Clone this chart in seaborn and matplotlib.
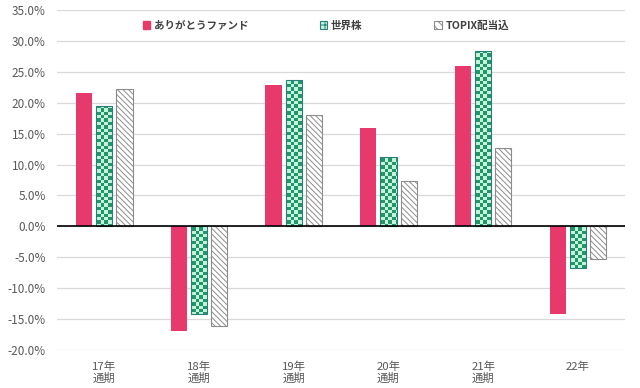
import numpy as np
import pandas as pd
import matplotlib
matplotlib.use('Agg')
import matplotlib.pyplot as plt
import seaborn as sns
from matplotlib.patches import Patch
from matplotlib.ticker import PercentFormatter

# Data (returns in %)
periods = ['17年\n通期', '18年\n通期', '19年\n通期', '20年\n通期', '21年\n通期', '22年']
series = ['ありがとうファンド', '世界株', 'TOPIX配当込']
fund = [21.6, -16.9, 22.9, 15.9, 26.0, -14.2]
world = [19.4, -14.2, 23.7, 11.2, 28.4, -6.7]
topix = [22.2, -16.1, 18.1, 7.3, 12.7, -5.3]

# Colors
pink = '#E8396C'
green_dark = '#23946B'
green_light = '#C3F5D8'
green_edge = '#2A7F7A'
gray_edge = '#8C8C8C'

sns.set_style('white')
plt.rcParams['font.family'] = ['Noto Sans CJK JP', 'DejaVu Sans']
plt.rcParams['axes.unicode_minus'] = False
plt.rcParams['hatch.linewidth'] = 0.7

df = pd.DataFrame({
    'period': periods * 3,
    'series': [series[0]] * 6 + [series[1]] * 6 + [series[2]] * 6,
    'value': fund + world + topix,
})

fig = plt.figure(figsize=(6.4, 3.88), dpi=100)
ax = fig.add_axes([0.089, 0.098, 0.888, 0.876])

sns.barplot(data=df, x='period', y='value', hue='series', hue_order=series,
            palette=[pink, green_light, 'white'], width=0.64, gap=0.2,
            legend=False, ax=ax, saturation=1)

# style each series
for bar in ax.containers[0]:
    bar.set_edgecolor(pink)
    bar.set_linewidth(0)
for bar in ax.containers[2]:
    bar.set_facecolor('white')
    bar.set_edgecolor(gray_edge)
    bar.set_hatch('\\\\\\\\\\\\')
    bar.set_linewidth(0.8)

# checkerboard fill for the green series
ny, nx = 100, 168
checker = (np.add.outer(np.arange(ny), np.arange(nx)) % 2).astype(float)
cmap = matplotlib.colors.ListedColormap([green_dark, green_light])
for bar in ax.containers[1]:
    bar.set_edgecolor(green_edge)
    bar.set_linewidth(0.8)
    im = ax.imshow(checker, cmap=cmap, extent=(-0.5, 5.5, -20, 35),
                   aspect='auto', interpolation='nearest', zorder=bar.get_zorder() + 0.1)
    im.set_clip_path(bar)
    bar.set_zorder(bar.get_zorder() + 0.2)
    bar.set_facecolor('none')

ax.set_ylim(-20, 35)
ax.set_xlim(-0.5, 5.5)

ax.set_yticks(np.arange(-20, 36, 5))
ax.yaxis.set_major_formatter(PercentFormatter(decimals=1))
ax.grid(axis='y', color='#D9D9D9', linewidth=0.9)
ax.set_axisbelow(True)
ax.axhline(0, color='black', linewidth=1.2, zorder=5)
for s in ax.spines.values():
    s.set_visible(False)
ax.tick_params(axis='both', length=0, labelcolor='#595959')
ax.tick_params(axis='y', labelsize=8.5, pad=8)
ax.tick_params(axis='x', labelsize=8.2, pad=8)
for lbl in ax.get_xticklabels():
    lbl.set_horizontalalignment('center')
    lbl.set_linespacing(1.15)
ax.set_xlabel('')
ax.set_ylabel('')

handles = [
    Patch(facecolor=pink, edgecolor=pink),
    Patch(facecolor=green_light, edgecolor=green_edge, hatch='+++', linewidth=0.8),
    Patch(facecolor='white', edgecolor=gray_edge, hatch='\\\\\\\\', linewidth=0.8),
]
leg = ax.legend(handles, series, loc='center', bbox_to_anchor=(0.473, 0.955), ncol=3,
                frameon=False, prop={'size': 7.6, 'weight': 'bold'},
                handlelength=0.7, handleheight=0.7,
                handletextpad=0.35, columnspacing=6.8)
for t in leg.get_texts():
    t.set_color('#404040')

fig.savefig('out.png', dpi=100, facecolor='white')
